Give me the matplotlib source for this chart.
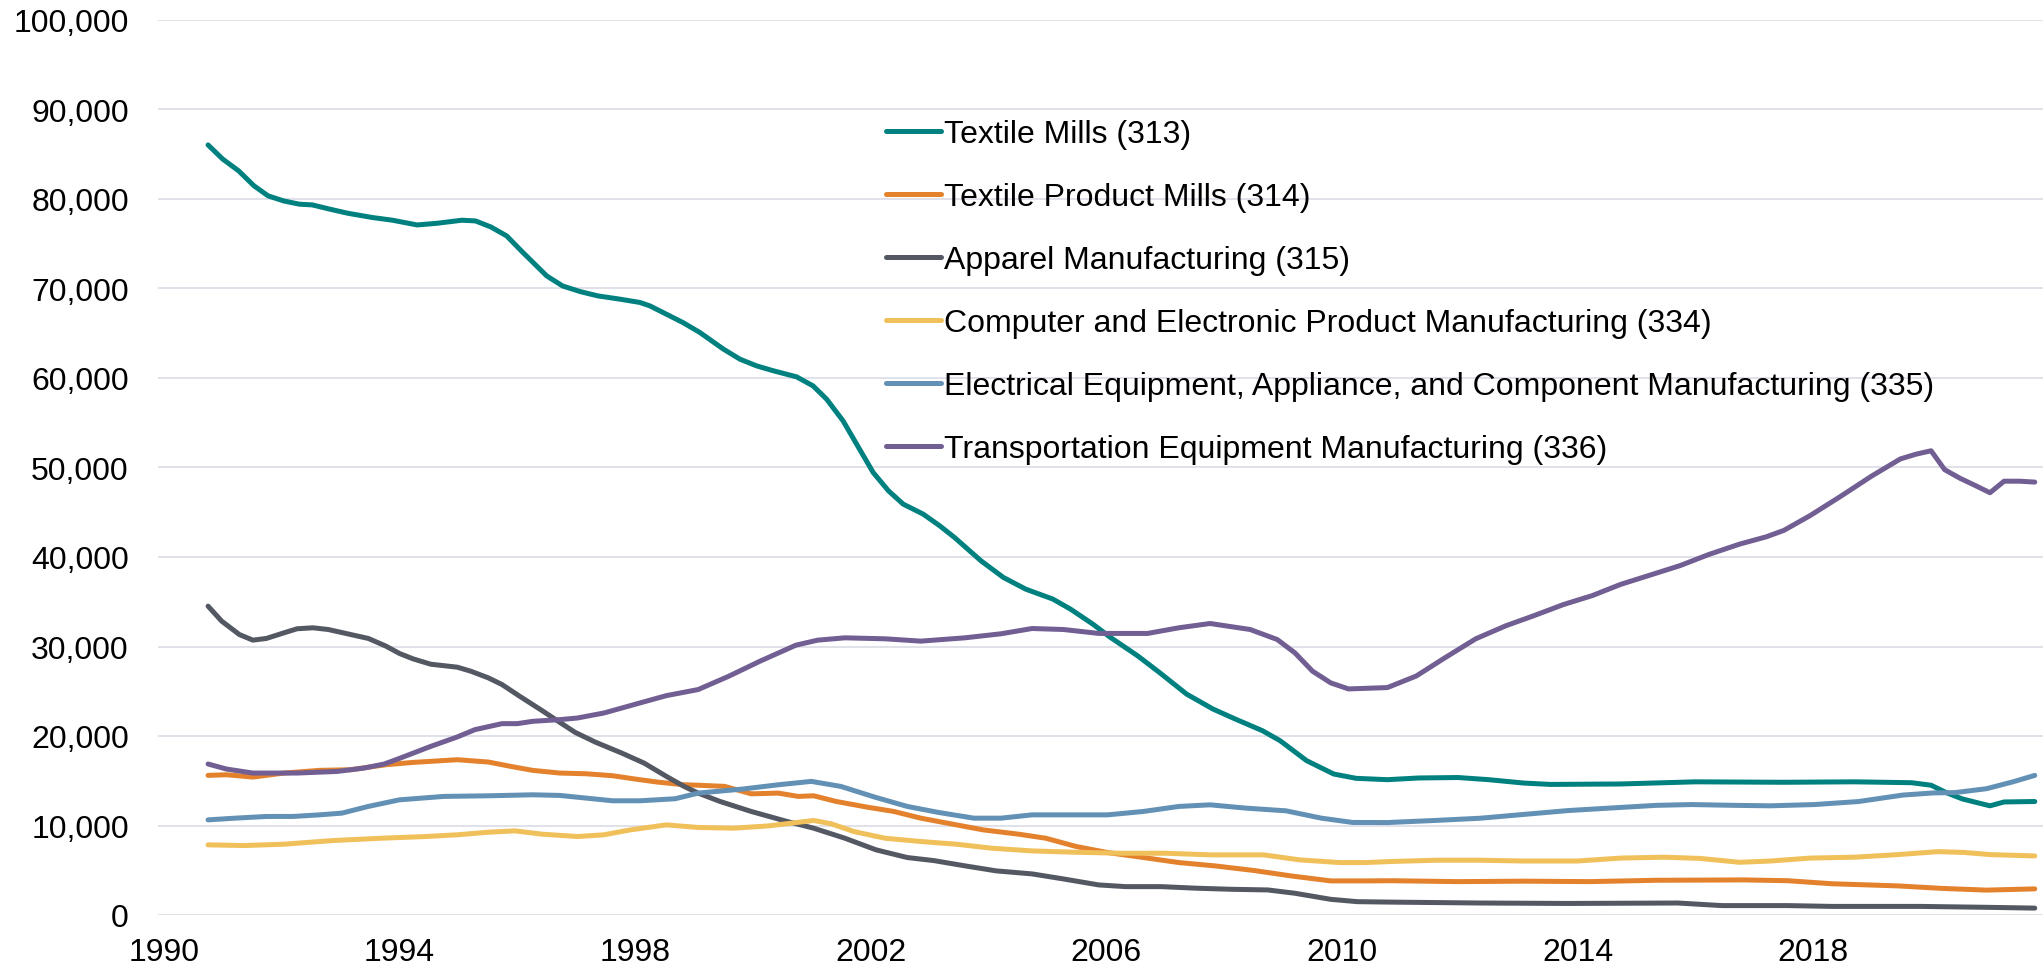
import matplotlib
matplotlib.use("Agg")
import matplotlib.pyplot as plt
from matplotlib.ticker import FuncFormatter

# ---------------------------------------------------------------
# data (employment)
# ---------------------------------------------------------------
labels = [
    "Textile Mills (313)",
    "Textile Product Mills (314)",
    "Apparel Manufacturing (315)",
    "Computer and Electronic Product Manufacturing (334)",
    "Electrical Equipment, Appliance, and Component Manufacturing (335)",
    "Transportation Equipment Manufacturing (336)",
]
colors = ["#00807F", "#E3812D", "#545863", "#F0C05A", "#6391B5", "#715E93"]

yr_313 = [1990.75, 1991.0, 1991.27, 1991.53, 1991.77, 1992.03, 1992.3, 1992.52, 1992.82,
          1993.12, 1993.54, 1993.88, 1994.3, 1994.64, 1995.06, 1995.29, 1995.55, 1995.82,
          1996.08, 1996.5, 1996.77, 1997.07, 1997.37, 1997.75, 1998.08, 1998.25, 1998.53,
          1998.81, 1999.1, 1999.5, 1999.78, 2000.06, 2000.35, 2000.74, 2001.02, 2001.25,
          2001.53, 2001.76, 2002.04, 2002.3, 2002.55, 2002.89, 2003.17, 2003.42, 2003.87,
          2004.25, 2004.63, 2005.09, 2005.39, 2005.77, 2006.07, 2006.53, 2006.9, 2007.36,
          2007.81, 2008.19, 2008.65, 2008.95, 2009.4, 2009.86, 2010.24, 2010.77, 2011.3,
          2011.97, 2012.49, 2013.09, 2013.54, 2014.73, 2016.0, 2017.5, 2018.7, 2019.67,
          2020.0, 2020.27, 2020.53, 2020.79, 2021.0, 2021.24, 2021.76]
emp_313 = [86040, 84450, 83140, 81470, 80350, 79790, 79420, 79340, 78860,
           78410, 77930, 77630, 77100, 77290, 77630, 77550, 76880, 75870,
           74120, 71400, 70280, 69650, 69170, 68800, 68440, 68060, 67130,
           66200, 65080, 63220, 62100, 61360, 60800, 60130, 59120, 57640,
           55210, 52610, 49450, 47400, 45910, 44790, 43490, 42190, 39580,
           37720, 36410, 35300, 34180, 32500, 31010, 28960, 27100, 24690,
           23010, 21890, 20590, 19470, 17240, 15750, 15270, 15120, 15310,
           15360, 15120, 14740, 14590, 14640, 14880, 14830, 14880, 14780,
           14500, 13640, 12970, 12540, 12200, 12630, 12680]

yr_314 = [1990.75, 1991.06, 1991.51, 1992.04, 1992.64, 1993.17, 1993.77, 1994.23, 1994.98,
          1995.51, 1995.89, 1996.26, 1996.72, 1997.17, 1997.62, 1998.0, 1998.38, 1998.83,
          1999.07, 1999.52, 1999.97, 2000.43, 2000.77, 2001.03, 2001.41, 2001.94, 2002.39,
          2002.85, 2003.3, 2003.91, 2004.51, 2004.97, 2005.49, 2006.02, 2006.63, 2007.23,
          2007.84, 2008.52, 2009.13, 2009.81, 2010.41, 2010.84, 2011.97, 2013.09, 2014.21,
          2015.33, 2016.83, 2017.57, 2018.32, 2019.44, 2020.19, 2020.94, 2021.76]
emp_314 = [15600, 15670, 15410, 15860, 16160, 16230, 16790, 17050, 17350,
           17090, 16600, 16160, 15860, 15780, 15560, 15190, 14850, 14550,
           14500, 14370, 13540, 13620, 13250, 13320, 12690, 12050, 11570,
           10820, 10260, 9510, 9030, 8580, 7650, 6980, 6420, 5860,
           5490, 4960, 4370, 3810, 3810, 3830, 3730, 3780, 3730,
           3880, 3920, 3830, 3490, 3250, 2970, 2780, 2920]

yr_315 = [1990.75, 1990.98, 1991.28, 1991.51, 1991.74, 1992.04, 1992.26, 1992.53, 1992.79,
          1993.17, 1993.47, 1993.77, 1994.0, 1994.23, 1994.53, 1994.98, 1995.21, 1995.51,
          1995.74, 1996.04, 1996.42, 1996.72, 1996.98, 1997.32, 1997.77, 1998.15, 1998.53,
          1998.83, 1999.07, 1999.44, 1999.97, 2000.58, 2001.03, 2001.56, 2002.09, 2002.62,
          2003.07, 2003.6, 2004.13, 2004.74, 2005.27, 2005.87, 2006.33, 2006.93, 2007.54,
          2008.14, 2008.74, 2009.2, 2009.81, 2010.26, 2010.84, 2012.34, 2013.84, 2015.7,
          2016.45, 2017.57, 2018.32, 2019.82, 2020.94, 2021.76]
emp_315 = [34510, 32840, 31340, 30710, 30900, 31530, 31980, 32090, 31900,
           31340, 30900, 30040, 29220, 28620, 28020, 27690, 27240, 26490,
           25750, 24440, 22840, 21530, 20410, 19330, 18100, 16980, 15490,
           14370, 13620, 12690, 11570, 10450, 9700, 8580, 7280, 6420,
           6080, 5490, 4930, 4590, 4030, 3360, 3170, 3170, 2990,
           2870, 2800, 2430, 1750, 1490, 1440, 1340, 1290, 1340,
           1050, 1050, 960, 960, 860, 770]

yr_334 = [1990.75, 1991.36, 1992.04, 1992.87, 1993.7, 1994.45, 1994.98, 1995.51, 1995.96,
          1996.42, 1997.02, 1997.47, 1997.92, 1998.53, 1999.07, 1999.67, 2000.27, 2001.03,
          2001.33, 2001.71, 2002.24, 2002.85, 2003.45, 2004.06, 2004.74, 2005.49, 2006.25,
          2007.0, 2007.76, 2008.67, 2009.28, 2009.96, 2010.41, 2010.84, 2011.6, 2012.34,
          2013.09, 2013.99, 2014.73, 2015.48, 2016.08, 2016.75, 2017.27, 2017.95, 2018.7,
          2019.44, 2020.12, 2020.56, 2021.0, 2021.76]
emp_334 = [7840, 7760, 7910, 8320, 8580, 8770, 8960, 9250, 9400,
           9030, 8770, 8960, 9510, 10070, 9780, 9700, 9960, 10560,
           10190, 9330, 8580, 8210, 7910, 7460, 7160, 7010, 6900,
           6900, 6720, 6720, 6160, 5860, 5860, 5980, 6120, 6120,
           6030, 6030, 6360, 6460, 6320, 5890, 6030, 6360, 6460,
           6750, 7080, 6990, 6750, 6600]

yr_335 = [1990.75, 1991.21, 1991.74, 1992.19, 1992.64, 1993.02, 1993.47, 1994.0, 1994.38,
          1994.75, 1995.51, 1996.26, 1996.72, 1997.17, 1997.62, 1998.08, 1998.68, 1999.07,
          1999.82, 2000.43, 2000.99, 2001.49, 2002.09, 2002.62, 2003.15, 2003.75, 2004.21,
          2004.74, 2005.34, 2006.02, 2006.63, 2007.23, 2007.76, 2008.37, 2009.05, 2009.65,
          2010.18, 2010.77, 2011.6, 2012.34, 2013.09, 2013.84, 2014.58, 2015.33, 2015.93,
          2016.68, 2017.27, 2018.02, 2018.77, 2019.52, 2020.04, 2020.41, 2020.94, 2021.39,
          2021.76]
emp_335 = [10630, 10820, 11010, 11010, 11190, 11380, 12130, 12870, 13060,
           13250, 13320, 13430, 13360, 13060, 12760, 12760, 12990, 13620,
           14070, 14550, 14930, 14370, 13130, 12130, 11460, 10820, 10820,
           11190, 11190, 11190, 11570, 12130, 12310, 11940, 11640, 10820,
           10340, 10330, 10570, 10810, 11240, 11670, 11960, 12250, 12340,
           12250, 12200, 12340, 12680, 13400, 13640, 13680, 14110, 14880,
           15600]

yr_336 = [1990.75, 1991.06, 1991.51, 1992.26, 1992.94, 1993.4, 1993.74, 1994.0, 1994.53,
          1994.98, 1995.28, 1995.74, 1996.0, 1996.26, 1996.72, 1997.02, 1997.47, 1998.08,
          1998.53, 1999.07, 1999.59, 2000.12, 2000.73, 2001.1, 2001.56, 2002.24, 2002.85,
          2003.6, 2004.21, 2004.74, 2005.27, 2005.87, 2006.7, 2007.23, 2007.76, 2008.44,
          2008.9, 2009.2, 2009.5, 2009.81, 2010.11, 2010.77, 2011.26, 2011.74, 2012.27,
          2012.79, 2013.24, 2013.76, 2014.25, 2014.73, 2015.26, 2015.74, 2016.23, 2016.75,
          2017.2, 2017.5, 2017.95, 2018.47, 2018.99, 2019.48, 2019.74, 2020.0, 2020.23,
          2020.49, 2020.75, 2021.0, 2021.24, 2021.5, 2021.76]
emp_336 = [16870, 16310, 15860, 15860, 16040, 16420, 16870, 17500, 18840,
           19890, 20710, 21380, 21380, 21640, 21830, 22010, 22570, 23690,
           24510, 25190, 26680, 28360, 30150, 30710, 30970, 30860, 30600,
           30970, 31420, 32010, 31900, 31460, 31460, 32090, 32570, 31900,
           30780, 29290, 27240, 25930, 25260, 25410, 26700, 28710, 30860,
           32340, 33400, 34690, 35690, 36940, 38040, 39040, 40290, 41440,
           42250, 42970, 44640, 46800, 49040, 50960, 51480, 51870, 49760,
           48800, 47990, 47180, 48470, 48470, 48370]

years = [yr_313, yr_314, yr_315, yr_334, yr_335, yr_336]
values = [emp_313, emp_314, emp_315, emp_334, emp_335, emp_336]
xticks = [1990, 1994, 1998, 2002, 2006, 2010, 2014, 2018]

# ---------------------------------------------------------------
# plot
# ---------------------------------------------------------------
plt.rcParams['font.family'] = ['Liberation Sans', 'DejaVu Sans']
FS = 23

fig = plt.figure(figsize=(20.43, 9.70), dpi=100)
ax = fig.add_axes([158/2043, 54/970, 1 - 158/2043, 895/970])

for x, y, c, lab in zip(years, values, colors, labels):
    ax.plot(x, y, color=c, lw=3.6, label=lab, solid_capstyle='round', solid_joinstyle='round')

ax.set_xlim(1989.9, 2021.9)
ax.set_ylim(0, 100000)
ax.set_xticks(xticks)
ax.set_yticks(range(0, 100001, 10000))
ax.yaxis.set_major_formatter(FuncFormatter(lambda v, p: f"{int(v):,}"))
ax.tick_params(axis='both', length=0, labelsize=FS, colors='black')
ax.tick_params(axis='y', pad=21)
ax.tick_params(axis='x', pad=16)
ax.grid(axis='y', color='#D9D9E4', lw=1.1)
ax.set_axisbelow(True)
for s in ax.spines.values():
    s.set_visible(False)

ax.legend(loc='upper left', bbox_to_anchor=(0.386, 0.889), frameon=False,
          fontsize=FS, handlelength=1.72, handletextpad=0.1, labelspacing=1.03,
          borderpad=0, borderaxespad=0)

fig.savefig("out.png", dpi=100)
